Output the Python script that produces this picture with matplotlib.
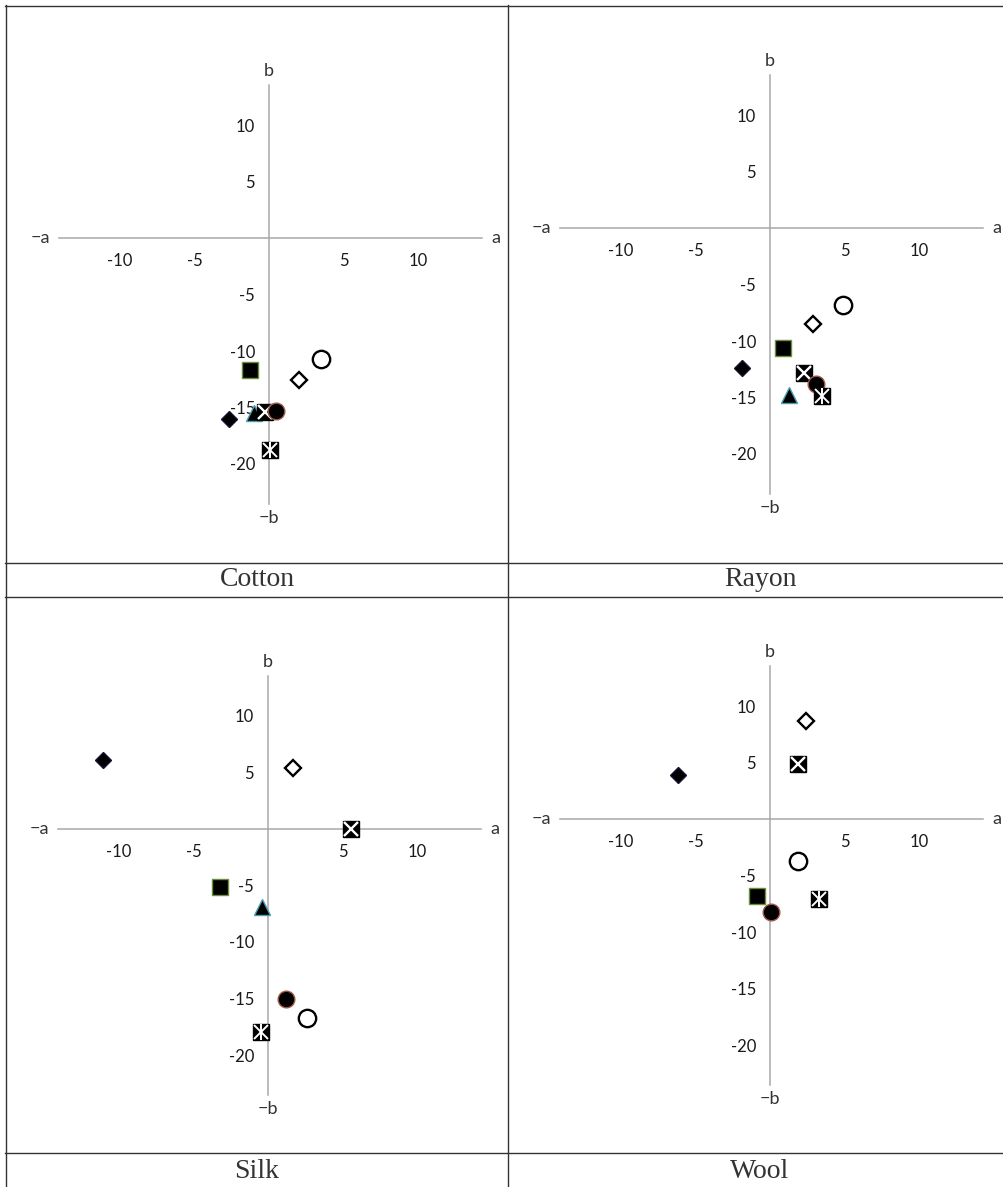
import numpy as np
import matplotlib
matplotlib.use("Agg")
import matplotlib.pyplot as plt
from matplotlib.lines import Line2D

plt.rcParams['font.family'] = ['Lato', 'DejaVu Sans']

# ---- data (a, b) per fabric; series order:
# filled diamond, open diamond, filled square, triangle, x-square, filled circle, star-square, open circle
fabrics = ["Cotton", "Rayon", "Silk", "Wool"]
cotton_a = [-2.7, 2.0, -1.3, -1.0, -0.3, 0.5, 0.1, 3.5]
cotton_b = [-16.0, -12.6, -11.7, -15.5, -15.4, -15.3, -18.8, -10.7]
rayon_a = [-1.9, 2.9, 0.9, 1.3, 2.3, 3.1, 3.5, 4.9]
rayon_b = [-12.4, -8.5, -10.6, -14.8, -12.8, -13.8, -14.9, -6.8]
silk_a = [-11.1, 1.7, -3.2, -0.4, 5.6, 1.2, -0.5, 2.6]
silk_b = [6.1, 5.4, -5.1, -6.9, 0.0, -15.0, -18.0, -16.7]
wool_a = [-6.2, 2.4, -0.9, np.nan, 1.9, 0.1, 3.3, 1.9]
wool_b = [3.9, 8.7, -6.8, np.nan, 4.9, -8.2, -7.1, -3.7]
x_ticks = [-10, -5, 5, 10]
x_tick_labels = ["-10", "-5", "5", "10"]
y_ticks = [-20, -15, -10, -5, 5, 10]
y_tick_labels = ["-20", "-15", "-10", "-5", "5", "10"]

panel_a = [cotton_a, rayon_a, silk_a, wool_a]
panel_b = [cotton_b, rayon_b, silk_b, wool_b]

# marker styles: list of layers per series
styles = [
    [dict(marker='D', ms=7.8, mfc='black', mec='#1a1030', mew=1.0)],
    [dict(marker='D', ms=7.8, mfc='white', mec='black', mew=1.7)],
    [dict(marker='s', ms=11.5, mfc='black', mec='#6b8e3a', mew=1.0)],
    [dict(marker='^', ms=12, mfc='black', mec='#4aa0b0', mew=1.0)],
    [dict(marker='s', ms=12, mfc='black', mec='black', mew=1.0),
     dict(marker='x', ms=10.5, mfc='none', mec='white', mew=1.7)],
    [dict(marker='o', ms=12, mfc='black', mec='#a0584a', mew=1.0)],
    [dict(marker='s', ms=12, mfc='black', mec='black', mew=1.0),
     dict(marker='x', ms=10, mfc='none', mec='white', mew=1.4),
     dict(marker='|', ms=11, mfc='none', mec='white', mew=1.4)],
    [dict(marker='o', ms=12.5, mfc='white', mec='black', mew=1.7)],
]

W, H = 1004, 1187
fig = plt.figure(figsize=(W / 100, H / 100), dpi=100)

XLIM = (-14.1, 14.3)
YLIM = (-23.5, 13.5)
UX, UY = 14.9, 11.3
origins = [(269, 238), (770, 228), (268, 829), (770, 819)]

for i, name in enumerate(fabrics):
    x0, y0 = origins[i]
    left = x0 + XLIM[0] * UX
    top = y0 - YLIM[1] * UY
    w = (XLIM[1] - XLIM[0]) * UX
    h = (YLIM[1] - YLIM[0]) * UY
    ax = fig.add_axes([left / W, 1 - (top + h) / H, w / W, h / H])
    ax.set_xlim(*XLIM)
    ax.set_ylim(*YLIM)
    ax.patch.set_alpha(0)
    for s in ['top', 'right']:
        ax.spines[s].set_visible(False)
    ax.spines['left'].set_position(('data', 0))
    ax.spines['bottom'].set_position(('data', 0))
    for s in ['left', 'bottom']:
        ax.spines[s].set_color('#a8a8a8')
        ax.spines[s].set_linewidth(1.1)
    ax.set_xticks(x_ticks)
    ax.set_xticklabels(x_tick_labels)
    ax.set_yticks(y_ticks)
    ax.set_yticklabels(y_tick_labels)
    ax.tick_params(axis='both', length=0, labelsize=12, labelcolor='#1a1a1a')
    ax.tick_params(axis='x', pad=11)
    ax.tick_params(axis='y', pad=10)

    a_vals, b_vals = panel_a[i], panel_b[i]
    for k, layers in enumerate(styles):
        for st in layers:
            ax.plot([a_vals[k]], [b_vals[k]], linestyle='none', clip_on=False,
                    zorder=3 + k, **st)

    lab = dict(fontsize=13, color='#333333', family=['Lato', 'DejaVu Sans'])
    ax.text(XLIM[1] + 0.6, 0, "a", ha='left', va='center', **lab)
    ax.text(XLIM[0] - 0.6, 0, "\u2212a", ha='right', va='center', **lab)
    ax.text(0, YLIM[1] + 0.6, "b", ha='center', va='bottom', **lab)
    ax.text(0, YLIM[0] - 0.6, "\u2212b", ha='center', va='top', **lab)

# ---- table frame
def hline(y, x1, x2):
    fig.add_artist(Line2D([x1 / W, x2 / W], [1 - y / H, 1 - y / H],
                          transform=fig.transFigure, color='#333333', lw=1.0))

def vline(x, y1, y2):
    fig.add_artist(Line2D([x / W, x / W], [1 - y1 / H, 1 - y2 / H],
                          transform=fig.transFigure, color='#333333', lw=1.0))

hline(5.5, 5, 1004)
hline(563, 5, 1004)
hline(597, 5, 1004)
hline(1153, 5, 1004)
vline(5.5, 5, 1187)
vline(508.5, 5, 1187)

caption_pos = [(257, 580), (760, 580), (257, 1171), (760, 1171)]
for name, (cx, cy) in zip(fabrics, caption_pos):
    fig.text(cx / W, 1 - cy / H, name, ha='center', va='center',
             fontsize=20, color='#333333', family=['Liberation Serif'])

fig.savefig("out.png", dpi=100)
